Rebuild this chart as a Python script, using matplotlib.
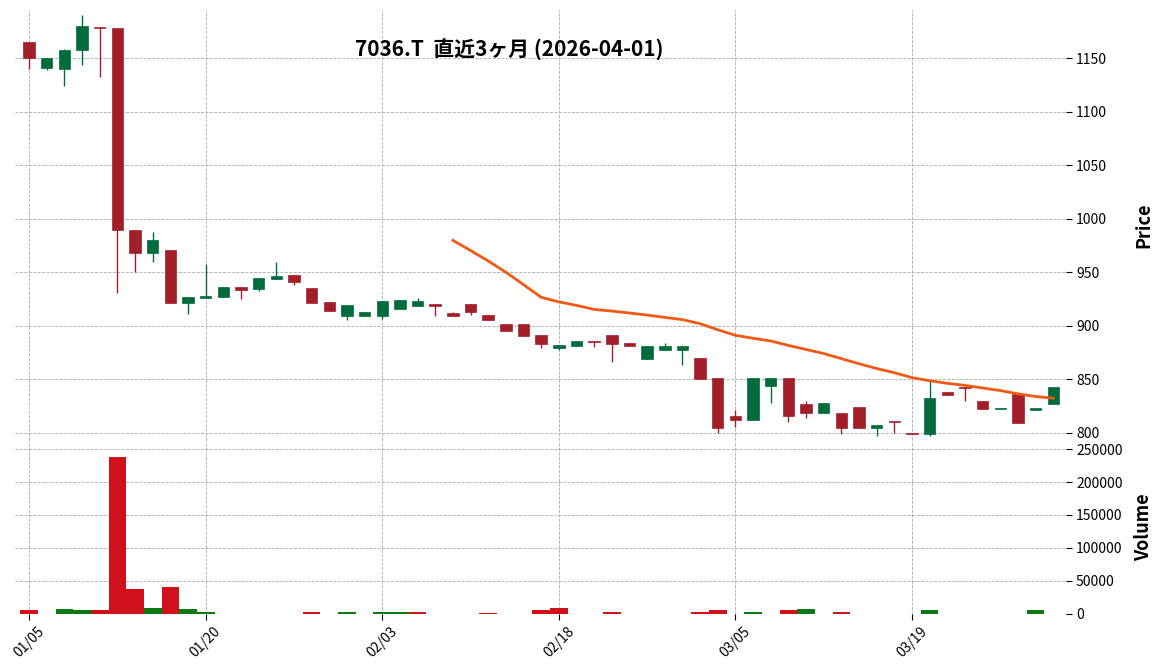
import matplotlib
matplotlib.use("Agg")
import matplotlib.pyplot as plt
import numpy as np

plt.rcParams['font.family'] = ['Noto Sans CJK JP', 'DejaVu Sans']

dates = ["01/05","01/06","01/07","01/08","01/09","01/13","01/14","01/15","01/16","01/19",
         "01/20","01/21","01/22","01/23","01/26","01/27","01/28","01/29","01/30","02/02",
         "02/03","02/04","02/05","02/06","02/09","02/10","02/12","02/13","02/16","02/17",
         "02/18","02/19","02/20","02/24","02/25","02/26","02/27","03/02","03/03","03/04",
         "03/05","03/06","03/09","03/10","03/11","03/12","03/13","03/16","03/17","03/18",
         "03/19","03/23","03/24","03/25","03/26","03/27","03/30","03/31","04/01"]
opens  = [1165,1141,1140,1158,1179,1178,989,968,971,921,926,927,936,934,944,947,935,922,909,909,
          909,916,918,920,912,920,910,902,902,891,879,881,886,891,884,869,877,877,870,851,
          816,812,844,851,827,818,818,824,804,811,800,799,838,843,830,822,836,821,827]
highs  = [1165,1150,1159,1190,1179,1178,989,988,971,927,958,936,936,945,960,947,935,922,919,913,
          923,924,926,920,913,920,910,902,902,891,882,886,886,891,884,881,884,881,870,851,
          821,851,851,851,830,828,818,824,807,811,800,849,838,843,830,822,836,823,843]
lows   = [1140,1139,1124,1144,1132,931,950,960,921,911,926,927,925,932,944,938,921,914,905,909,
          906,916,918,909,909,910,905,895,890,879,877,881,880,866,881,869,877,863,850,800,
          805,812,828,810,814,818,799,804,797,800,799,797,835,830,822,822,809,821,827]
closes = [1150,1150,1158,1180,1178,989,968,980,921,927,928,936,933,945,946,941,921,914,919,913,
          923,924,923,918,909,913,905,895,890,883,882,886,885,883,881,881,881,881,850,804,
          812,851,851,816,818,828,804,804,807,810,799,832,835,842,822,822,809,823,843]
volumes = [6000,0,7000,6000,6000,238000,37000,9000,40000,7000,3000,0,0,0,0,0,3000,0,2000,0,
           3000,2000,2000,0,0,0,1500,0,0,5000,8000,0,0,3000,0,0,0,0,3000,5000,
           0,2000,0,5000,7000,0,2000,0,0,0,0,5000,0,0,0,0,0,5000,0]
tick_idx = [0,10,20,30,40,50]
title = "7036.T  直近3ヶ月 (2026-04-01)"

UP, DN = "#006b3c", "#a21f2a"
VUP, VDN = "#0b7a12", "#d0111b"

n = len(closes)
x = np.arange(n)
o, h, l, c = map(np.array, (opens, highs, lows, closes))

fig = plt.figure(figsize=(11.52, 6.7), dpi=100)
ax = fig.add_axes([0.013, 0.343, 0.912, 0.642])
axv = fig.add_axes([0.013, 0.084, 0.912, 0.259], sharex=ax)

up = c >= o
col = np.where(up, UP, DN)
ax.vlines(x, l, h, colors=col, linewidth=1, zorder=2)
body = np.abs(c - o)
body = np.where(body < 1, 1.5, body)
ax.bar(x, body, bottom=np.minimum(o, c), width=0.65, color=col, edgecolor=col, linewidth=0.5, zorder=3)

ma = np.convolve(c, np.ones(25) / 25, mode='valid')
ax.plot(x[24:], ma, color="#f05a14", linewidth=2, zorder=4)

vcol = [VUP if i > 0 and c[i] >= c[i-1] else VDN for i in range(n)]
axv.bar(x, volumes, width=1.0, color=vcol)

for a in (ax, axv):
    for s in a.spines.values():
        s.set_visible(False)
    a.grid(True, color="#aaaaaa", linestyle="--", linewidth=0.6)
    a.set_axisbelow(True)
    a.yaxis.tick_right()
    a.yaxis.set_label_position("right")
    a.tick_params(length=4, color="black", labelsize=10)

ax.set_ylim(793, 1195)
ax.set_yticks([800, 850, 900, 950, 1000, 1050, 1100, 1150])
ax.set_ylabel("Price", fontsize=13, fontweight="bold")
axv.set_ylim(0, 263600)
axv.set_yticks([0, 50000, 100000, 150000, 200000, 250000])
axv.set_yticklabels(["0", "50000", "100000", "150000", "200000", "250000"])
axv.set_ylabel("Volume", fontsize=13, fontweight="bold")
axv.yaxis.set_label_coords(1.065, 0.5)
ax.yaxis.set_label_coords(1.065, 0.5)

ax.set_xlim(-0.8, n - 0.3)
axv.set_xticks(tick_idx)
axv.set_xticklabels([dates[i] for i in tick_idx], rotation=45)
plt.setp(ax.get_xticklabels(), visible=False)
ax.tick_params(axis='x', length=0)

ax.text(0.47, 0.91, title, transform=ax.transAxes, ha="center", va="center",
        fontsize=15, fontweight="bold")

fig.savefig("out.png", dpi=100)
